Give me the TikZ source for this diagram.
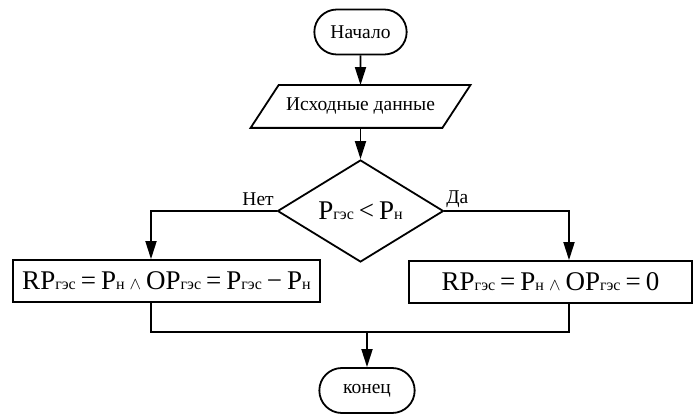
\documentclass[tikz,border=0pt]{standalone}
\usepackage{fontspec}
\setmainfont{Liberation Serif}
\usetikzlibrary{shapes.geometric,shapes.misc,arrows.meta}

\newcommand{\gsub}[1]{{\fontsize{16}{16}\selectfont #1}}
\newcommand{\andsym}{{\fontsize{17}{17}\selectfont$\wedge$}}
\newcommand{\formfont}{\fontsize{27}{30}\selectfont\spaceskip=5pt\relax}

\begin{document}
\begin{tikzpicture}[x=1pt, y=-1pt, line width=1.8pt,
    term/.style={draw, rounded rectangle, minimum width=99pt, minimum height=45pt, font=\fontsize{19.5}{21}\selectfont},
    box/.style={draw, rectangle, minimum height=42pt, inner sep=0pt, font=\formfont},
    arr/.style={-{Triangle[length=18pt, width=11pt]}},
    lbl/.style={font=\fontsize{19.5}{21}\selectfont, inner sep=0pt}]
    \useasboundingbox (0,0) rectangle (693,417);

    \node [term] (start) at (360.5,32) {Начало};
    \node [minimum width=190pt, minimum height=41pt, inner sep=0pt, font=\fontsize{19.5}{21}\selectfont] (data) at (360.5,106.5) {Исходные данные};
    \draw ([xshift=14pt]data.north west) -- ([xshift=14pt]data.north east) -- ([xshift=-14pt]data.south east) -- ([xshift=-14pt]data.south west) -- cycle;

    \node [draw, diamond, aspect=1.63, minimum width=166pt, minimum height=102pt, inner sep=0pt, font=\formfont] (cond) at (360.5,211) {P\gsub{гэс} < P\gsub{н}};

    \node [box, minimum width=307pt] (lbox) at (166.5,281) {RP\gsub{гэс} = P\gsub{н} \andsym{} OP\gsub{гэс} = P\gsub{гэс} − P\gsub{н}};
    \node [box, minimum width=283pt] (rbox) at (550.5,282) {RP\gsub{гэс} = P\gsub{н} \andsym{} OP\gsub{гэс} = 0};

    \node [term, minimum width=102pt] (end) at (367,390.5) {конец};
    \coordinate (merge) at (367,332);

    % branches
    \node [lbl, anchor=base east] (no) at ([xshift=-2pt, yshift=6pt]cond.west) {Нет};
    \node [lbl, anchor=base west] (yes) at ([xshift=1pt, yshift=8pt]cond.east) {Да};

    \draw [arr] (start) -- (data);
    \draw [arr] (data) -- (cond);
    \draw [arr] (cond.west) -| ([xshift=-15.5pt]lbox.north);
    \draw [arr] (cond.east) -| ([xshift=18.5pt]rbox.north);
    \draw ([xshift=-15.5pt]lbox.south) |- (merge) -| ([xshift=18.5pt]rbox.south);
    \draw [arr] (merge) -- (end);
\end{tikzpicture}
\end{document}
